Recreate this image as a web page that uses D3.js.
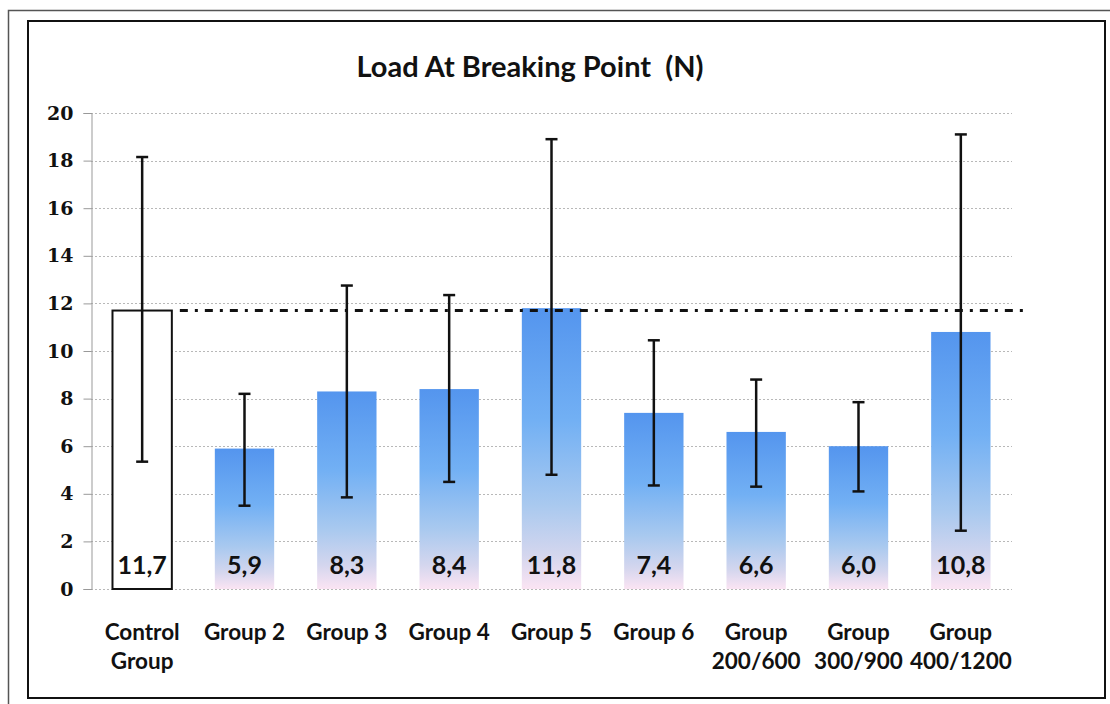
<!DOCTYPE html>
<html>
<head>
<meta charset="utf-8">
<script src="https://cdn.jsdelivr.net/npm/d3@7"></script>
<style>
  html, body { margin: 0; padding: 0; background: #fff; }
  svg { display: block; }
</style>
</head>
<body>
<svg id="chart" width="1110" height="704"></svg>
<script>
// ---- data ----
const title = "Load At Breaking Point  (N)";
const categories = ["Control\nGroup", "Group 2", "Group 3", "Group 4", "Group 5", "Group 6", "Group\n200/600", "Group\n300/900", "Group\n400/1200"];
const means   = [11.7, 5.9, 8.3, 8.4, 11.8, 7.4, 6.6, 6.0, 10.8];
const errHigh = [18.15, 8.2, 12.75, 12.35, 18.9, 10.45, 8.8, 7.85, 19.1];
const errLow  = [5.35, 3.5, 3.85, 4.5, 4.8, 4.35, 4.3, 4.1, 2.45];
const yTicks  = [0, 2, 4, 6, 8, 10, 12, 14, 16, 18, 20];
const referenceValue = 11.7;

// ---- layout ----
const svg = d3.select("#chart");
const W = 1110, H = 704;
const plot = { left: 91, right: 1012, top: 113, bottom: 589 };

const x = d3.scaleBand()
  .domain(d3.range(categories.length))
  .range([plot.left, plot.right])
  .paddingInner(0.42)
  .paddingOuter(0.21);

const y = d3.scaleLinear().domain([0, 20]).range([plot.bottom, plot.top]);

// frames
svg.append("path")
  .attr("d", `M8.5,${H} L8.5,10.5 L${W},10.5`)
  .attr("fill", "none").attr("stroke", "#555").attr("stroke-width", 1.5);
svg.append("rect")
  .attr("x", 28).attr("y", 21).attr("width", 1077).attr("height", 677)
  .attr("fill", "#fff").attr("stroke", "#111").attr("stroke-width", 2);

// gradient
const defs = svg.append("defs");
const grad = defs.append("linearGradient").attr("id", "barGrad")
  .attr("x1", 0).attr("y1", 0).attr("x2", 0).attr("y2", 1);
[["0%", "#5495ee"], ["40%", "#72b0f4"], ["70%", "#a9c9ef"], ["88%", "#d4d6ee"], ["100%", "#fbe4f3"]]
  .forEach(([o, c]) => grad.append("stop").attr("offset", o).attr("stop-color", c));

// title
svg.append("text")
  .attr("x", 530).attr("y", 77)
  .attr("text-anchor", "middle")
  .attr("font-family", "Lato, 'Open Sans', sans-serif")
  .attr("font-weight", "bold")
  .attr("font-size", 29)
  .attr("fill", "#111")
  .attr("xml:space", "preserve")
  .style("white-space", "pre")
  .text(title);

// gridlines
svg.append("g").selectAll("line").data(yTicks).join("line")
  .attr("x1", plot.left).attr("x2", plot.right)
  .attr("y1", d => Math.round(y(d)) + 0.5).attr("y2", d => Math.round(y(d)) + 0.5)
  .attr("stroke", "#b8b8b8").attr("stroke-width", 1).attr("stroke-dasharray", "2,2");

// y axis
const yAxis = d3.axisLeft(y).tickValues(yTicks).tickSize(8).tickPadding(10).tickFormat(d3.format("d"));
const ga = svg.append("g").attr("transform", `translate(${plot.left + 0.5},0)`).call(yAxis);
ga.select(".domain").attr("stroke", "#999").attr("stroke-width", 1);
ga.selectAll(".tick line").attr("stroke", "#999");
ga.selectAll(".tick text")
  .attr("font-family", "'DejaVu Serif', serif")
  .attr("font-weight", "bold")
  .attr("font-size", 19)
  .attr("fill", "#111");

// bars
svg.append("g").selectAll("rect").data(means).join("rect")
  .attr("x", (d, i) => x(i))
  .attr("y", d => y(d))
  .attr("width", x.bandwidth())
  .attr("height", d => y(0) - y(d))
  .attr("fill", (d, i) => i === 0 ? "#fff" : "url(#barGrad)")
  .attr("stroke", (d, i) => i === 0 ? "#111" : "none")
  .attr("stroke-width", 2);

// reference dash-dot line
svg.append("line")
  .attr("x1", x(0) + x.bandwidth() + 8).attr("x2", 1024)
  .attr("y1", y(referenceValue)).attr("y2", y(referenceValue))
  .attr("stroke", "#111").attr("stroke-width", 3)
  .attr("stroke-dasharray", "8,7,3,7");

// error bars
const eb = svg.append("g").attr("stroke", "#111").attr("stroke-width", 2.5);
categories.forEach((c, i) => {
  const cx = x(i) + x.bandwidth() / 2;
  eb.append("line").attr("x1", cx).attr("x2", cx).attr("y1", y(errHigh[i])).attr("y2", y(errLow[i]));
  eb.append("line").attr("x1", cx - 6).attr("x2", cx + 6).attr("y1", y(errHigh[i])).attr("y2", y(errHigh[i]));
  eb.append("line").attr("x1", cx - 6).attr("x2", cx + 6).attr("y1", y(errLow[i])).attr("y2", y(errLow[i]));
});

// value labels
const fmt = v => d3.format(".1f")(v).replace(".", ",");
svg.append("g").selectAll("text").data(means).join("text")
  .attr("x", (d, i) => x(i) + x.bandwidth() / 2)
  .attr("y", 574)
  .attr("text-anchor", "middle")
  .attr("font-family", "Lato, 'Open Sans', sans-serif")
  .attr("font-weight", "bold")
  .attr("font-size", 25)
  .attr("fill", "#111")
  .text(fmt);

// category labels
const cl = svg.append("g");
categories.forEach((c, i) => {
  const t = cl.append("text")
    .attr("x", x(i) + x.bandwidth() / 2)
    .attr("y", 640)
    .attr("text-anchor", "middle")
    .attr("font-family", "Lato, 'Open Sans', sans-serif")
    .attr("font-weight", "bold")
    .attr("font-size", 22.5)
    .attr("fill", "#111");
  c.split("\n").forEach((line, j) => {
    t.append("tspan").attr("x", x(i) + x.bandwidth() / 2).attr("dy", j === 0 ? 0 : 29).text(line);
  });
});
</script>
</body>
</html>
